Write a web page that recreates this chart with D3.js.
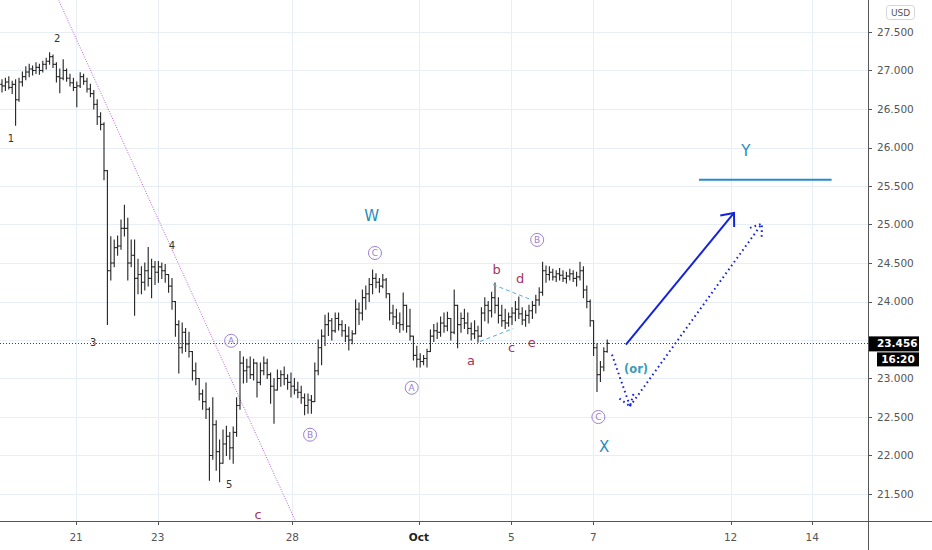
<!DOCTYPE html>
<html>
<head>
<meta charset="utf-8">
<script src="https://cdn.jsdelivr.net/npm/d3@7"></script>
<style>
  html, body { margin: 0; padding: 0; background: #fff; }
  svg { display: block; font-family: "DejaVu Sans", sans-serif; }
</style>
</head>
<body>
<div id="chart"></div>
<script>
// 2h bars, bar index 0 = first visible bar; open = previous close
const firstOpen = 26.82;
const barHigh = [
  26.88, 26.90, 26.92, 26.86, 26.88, 26.90, 26.98, 27.05, 27.08, 27.06,
  27.10, 27.08, 27.12, 27.16, 27.23, 27.20, 27.10, 27.02, 27.14, 27.02,
  26.95, 26.90, 26.85, 26.97, 26.95, 26.90, 26.82, 26.74, 26.62, 26.45,
  26.32, 25.70, 24.84, 24.80, 24.85, 25.06, 25.25, 25.08, 24.80, 24.80,
  24.55, 24.45, 24.50, 24.70, 24.55, 24.52, 24.52, 24.50, 24.48, 24.35,
  24.30, 24.00, 23.75, 23.72, 23.65, 23.60, 23.35, 23.20, 23.00, 22.85,
  22.94, 22.62, 22.75, 22.45, 22.20, 22.33, 22.38, 22.30, 22.37, 22.75,
  23.35, 23.28, 23.25, 23.28, 23.25, 23.20, 23.20, 23.28, 23.25, 23.07,
  23.00, 23.11, 23.10, 23.15, 23.05, 23.07, 23.00, 22.95, 22.90, 22.80,
  22.80, 22.78, 23.20, 23.50, 23.63, 23.82, 23.85, 23.78, 23.85, 23.85,
  23.75, 23.70, 23.67, 23.62, 24.02, 23.98, 24.15, 24.20, 24.30, 24.41,
  24.36, 24.30, 24.35, 24.30, 24.10, 23.95, 23.90, 23.85, 24.11, 23.95,
  23.90, 23.55, 23.42, 23.32, 23.30, 23.38, 23.63, 23.70, 23.72, 23.80,
  23.85, 23.86, 23.78, 24.15, 23.95, 23.85, 23.90, 23.85, 23.72, 23.75,
  23.68, 23.92, 24.05, 24.00, 24.12, 24.24, 24.05, 23.95, 23.90, 23.85,
  23.92, 24.00, 24.06, 23.92, 23.88, 23.95, 24.00, 24.08, 24.18, 24.51,
  24.46, 24.45, 24.42, 24.40, 24.43, 24.40, 24.38, 24.42, 24.40, 24.38,
  24.51, 24.45, 24.20, 24.02, 23.75, 23.45, 23.22, 23.40, 23.50
];
const barLow = [
  26.72, 26.74, 26.76, 26.70, 26.29, 26.60, 26.80, 26.88, 26.92, 26.94,
  26.96, 26.95, 26.98, 27.02, 27.08, 27.04, 26.85, 26.71, 26.88, 26.86,
  26.80, 26.74, 26.53, 26.78, 26.82, 26.72, 26.66, 26.50, 26.30, 26.23,
  25.58, 23.70, 24.28, 24.45, 24.60, 24.68, 24.85, 24.28, 24.45, 23.82,
  24.10, 24.10, 24.15, 24.20, 24.05, 24.22, 24.25, 24.30, 24.25, 24.12,
  23.90, 23.55, 23.07, 23.33, 23.35, 23.28, 22.98, 22.92, 22.72, 22.60,
  22.48, 21.68, 21.95, 21.81, 21.66, 21.90, 22.00, 21.95, 21.90, 22.25,
  22.60, 22.94, 22.95, 23.00, 22.98, 22.76, 22.92, 23.05, 23.00, 22.68,
  22.42, 22.85, 22.90, 22.92, 22.86, 22.76, 22.80, 22.75, 22.68, 22.53,
  22.55, 22.55, 22.70, 23.05, 23.18, 23.43, 23.56, 23.50, 23.60, 23.63,
  23.55, 23.48, 23.37, 23.45, 23.58, 23.70, 23.76, 23.90, 24.00, 24.10,
  24.18, 24.12, 24.18, 24.05, 23.76, 23.70, 23.65, 23.60, 23.63, 23.60,
  23.50, 23.24, 23.15, 23.15, 23.18, 23.15, 23.35, 23.48, 23.52, 23.55,
  23.60, 23.62, 23.50, 23.58, 23.40, 23.60, 23.65, 23.58, 23.50, 23.52,
  23.47, 23.55, 23.75, 23.72, 23.80, 23.85, 23.72, 23.68, 23.65, 23.68,
  23.70, 23.75, 23.78, 23.70, 23.68, 23.72, 23.78, 23.85, 23.95, 24.08,
  24.25, 24.28, 24.28, 24.26, 24.28, 24.26, 24.24, 24.28, 24.26, 24.20,
  24.28, 24.05, 23.92, 23.68, 23.30, 22.83, 22.96, 23.10, 23.34
];
const barClose = [
  26.80, 26.85, 26.78, 26.82, 26.62, 26.85, 26.92, 26.98, 27.02, 27.00,
  27.04, 27.00, 27.08, 27.12, 27.18, 27.08, 26.92, 26.90, 27.00, 26.90,
  26.84, 26.78, 26.80, 26.92, 26.86, 26.76, 26.70, 26.56, 26.40, 26.30,
  25.70, 24.40, 24.50, 24.70, 24.72, 24.95, 24.95, 24.50, 24.60, 24.30,
  24.35, 24.25, 24.40, 24.30, 24.45, 24.38, 24.45, 24.40, 24.35, 24.20,
  24.00, 23.70, 23.40, 23.60, 23.45, 23.35, 23.10, 23.00, 22.80, 22.70,
  22.60, 22.00, 22.40, 22.05, 21.90, 22.15, 22.25, 22.10, 22.30, 22.65,
  23.20, 23.10, 23.15, 23.05, 23.20, 22.95, 23.10, 23.20, 23.05, 22.90,
  22.85, 23.00, 23.05, 23.00, 22.95, 22.90, 22.85, 22.82, 22.75, 22.65,
  22.72, 22.70, 23.10, 23.40, 23.55, 23.70, 23.75, 23.62, 23.78, 23.70,
  23.62, 23.55, 23.50, 23.58, 23.90, 23.85, 24.05, 24.10, 24.22, 24.30,
  24.25, 24.20, 24.28, 24.10, 23.85, 23.80, 23.72, 23.70, 23.95, 23.68,
  23.55, 23.30, 23.25, 23.22, 23.26, 23.35, 23.55, 23.62, 23.60, 23.72,
  23.68, 23.78, 23.60, 23.95, 23.70, 23.78, 23.72, 23.65, 23.58, 23.62,
  23.55, 23.85, 23.95, 23.88, 24.05, 23.95, 23.82, 23.75, 23.72, 23.80,
  23.85, 23.90, 23.84, 23.76, 23.82, 23.88, 23.95, 24.02, 24.12, 24.40,
  24.35, 24.38, 24.32, 24.36, 24.34, 24.30, 24.33, 24.36, 24.30, 24.32,
  24.40, 24.15, 24.00, 23.75, 23.40, 23.05, 23.15, 23.35, 23.456
];

// time axis: bar index where each day label sits
const dateTickIdx = [21.8, 45.8, 85.4, 122.6, 149.8, 173.9, 214.3, 238.3];
const dateTickLabels = ["21", "23", "28", "Oct", "5", "7", "12", "14"];
const priceTicks = [21.5, 22, 22.5, 23, 23.5, 24, 24.5, 25, 25.5, 26, 26.5, 27, 27.5];
const lastPrice = 23.456;
const countdown = "16:20";

// wave labels: [text, bar index, price]
const impulseLabels = [["1", 2.6, 26.12], ["2", 16.2, 27.42], ["3", 26.8, 23.47], ["4", 50.0, 24.73], ["5", 66.8, 21.62]];
const circledLabels = [["A", 67.4, 23.49], ["B", 90.6, 22.27], ["C", 109.7, 24.63], ["A", 120.5, 22.88], ["B", 157.4, 24.80], ["C", 175.4, 22.50]];
const minorLabels = [["c", 75.3, 21.23], ["a", 137.9, 23.24], ["b", 145.5, 24.42], ["c", 149.9, 23.41], ["d", 152.4, 24.30], ["e", 155.8, 23.47]];
const degreeLabels = [["W", 108.7, 25.11], ["X", 177.1, 22.12], ["Y", 218.8, 25.96]];
const orLabel = ["(or)", 186.5, 23.13];

// drawings: [[bar index, price], ...]
const trendLine = [[16.6, 27.92], [86.4, 21.14]];
const triangleUpper = [[144.4, 24.22], [155.3, 24.03]];
const triangleLower = [[140.6, 23.48], [150.4, 23.65]];
const targetLine = [[205.0, 25.58], [244.0, 25.58]];
const mainArrow = [[183.5, 23.44], [215.3, 25.15]];
const altArrowDown = [[179.4, 23.31], [184.7, 22.64]];
const altArrowUp = [[184.7, 22.64], [223.5, 25.01]];

const W = 932, H = 550;
const PW = 868, PH = 521;

const svg = d3.select("#chart").append("svg")
  .attr("width", W).attr("height", H);

const x = d3.scaleLinear().domain([-2 / 3.4, (PW - 2) / 3.4]).range([0, PW]);
const y = d3.scaleLinear().domain([27.5 + 32 / 77, 21.5 - 27 / 77]).range([0, PH]);

svg.append("defs").append("clipPath").attr("id", "plot")
  .append("rect").attr("width", PW).attr("height", PH);

// grid
const grid = svg.append("g").attr("stroke", "#e8eef6").attr("stroke-width", 1);
grid.selectAll("line.h").data(priceTicks).join("line")
  .attr("x1", 0).attr("x2", PW)
  .attr("y1", d => Math.round(y(d)) + 0.5).attr("y2", d => Math.round(y(d)) + 0.5);
grid.selectAll("line.v").data(dateTickIdx).join("line")
  .attr("y1", 0).attr("y2", PH)
  .attr("x1", d => Math.round(x(d)) + 0.5).attr("x2", d => Math.round(x(d)) + 0.5);

const plot = svg.append("g").attr("clip-path", "url(#plot)");

// last price dotted line
plot.append("line")
  .attr("x1", 0).attr("x2", PW)
  .attr("y1", Math.round(y(lastPrice)) + 0.5).attr("y2", Math.round(y(lastPrice)) + 0.5)
  .attr("stroke", "#444").attr("stroke-dasharray", "1,2");

// purple trend line
const line = d3.line().x(d => x(d[0])).y(d => y(d[1]));
plot.append("path").attr("d", line(trendLine))
  .attr("fill", "none").attr("stroke", "#b45fd9").attr("stroke-width", 1)
  .attr("stroke-dasharray", "1,1.5");

// OHLC bars
const bars = barHigh.map((h, i) => ({
  i, high: h, low: barLow[i], close: barClose[i],
  open: i === 0 ? firstOpen : barClose[i - 1]
}));
const barG = plot.append("g").attr("stroke", "#222").attr("stroke-width", 1.1);
barG.selectAll("g").data(bars).join("g").each(function (d) {
  const g = d3.select(this);
  const cx = x(d.i);
  g.append("line").attr("x1", cx).attr("x2", cx).attr("y1", y(d.high) - 0.5).attr("y2", y(d.low) + 0.5);
  g.append("line").attr("x1", cx - 1.7).attr("x2", cx).attr("y1", y(d.open)).attr("y2", y(d.open));
  g.append("line").attr("x1", cx).attr("x2", cx + 1.7).attr("y1", y(d.close)).attr("y2", y(d.close));
});

// triangle boundaries
[triangleUpper, triangleLower].forEach(seg => {
  plot.append("path").attr("d", line(seg))
    .attr("fill", "none").attr("stroke", "#5aaae6").attr("stroke-width", 1)
    .attr("stroke-dasharray", "4,3");
});

// Y target line
plot.append("path").attr("d", line(targetLine))
  .attr("fill", "none").attr("stroke", "#2a8ac8").attr("stroke-width", 2);

function arrowHead(seg, len, spread) {
  const x0 = x(seg[0][0]), y0 = y(seg[0][1]);
  const x1 = x(seg[1][0]), y1 = y(seg[1][1]);
  const a = Math.atan2(y0 - y1, x0 - x1);
  const r = spread * Math.PI / 180;
  return [
    [x1 + len * Math.cos(a - r), y1 + len * Math.sin(a - r)],
    [x1, y1],
    [x1 + len * Math.cos(a + r), y1 + len * Math.sin(a + r)]
  ];
}
const pxLine = d3.line();

// solid forecast arrow
plot.append("path").attr("d", line(mainArrow))
  .attr("fill", "none").attr("stroke", "#1524d9").attr("stroke-width", 2);
plot.append("path").attr("d", pxLine(arrowHead(mainArrow, 14, 40)))
  .attr("fill", "none").attr("stroke", "#1524d9").attr("stroke-width", 2);

// dotted alternative path
[altArrowDown, altArrowUp].forEach(seg => {
  plot.append("path").attr("d", line(seg))
    .attr("fill", "none").attr("stroke", "#1524d9").attr("stroke-width", 2)
    .attr("stroke-dasharray", "1.6,3.2");
  plot.append("path").attr("d", pxLine(arrowHead(seg, 13, 35)))
    .attr("fill", "none").attr("stroke", "#1524d9").attr("stroke-width", 2)
    .attr("stroke-dasharray", "1.6,3.2");
});

// wave labels
const labels = svg.append("g").attr("text-anchor", "middle");
labels.selectAll("text.imp").data(impulseLabels).join("text")
  .attr("x", d => x(d[1])).attr("y", d => y(d[2])).attr("dy", "0.36em")
  .attr("font-size", 10).attr("fill", "#333").text(d => d[0]);

const circ = labels.selectAll("g.circ").data(circledLabels).join("g")
  .attr("transform", d => `translate(${x(d[1])},${y(d[2])})`);
circ.append("circle").attr("r", 6.5).attr("fill", "none")
  .attr("stroke", "#9b7fd4").attr("stroke-width", 1);
circ.append("text").attr("dy", "0.36em").attr("font-size", 9)
  .attr("fill", "#9b7fd4").text(d => d[0]);

labels.selectAll("text.minor").data(minorLabels).join("text")
  .attr("x", d => x(d[1])).attr("y", d => y(d[2])).attr("dy", "0.36em")
  .attr("font-size", 13).attr("fill", "#a3335f").text(d => d[0]);

labels.selectAll("text.deg").data(degreeLabels).join("text")
  .attr("x", d => x(d[1])).attr("y", d => y(d[2])).attr("dy", "0.36em")
  .attr("font-size", 15).attr("fill", "#1f8dbd").text(d => d[0]);

labels.append("text")
  .attr("x", x(orLabel[1])).attr("y", y(orLabel[2])).attr("dy", "0.36em")
  .attr("font-size", 11.5).attr("font-weight", "bold").attr("fill", "#3a9cc0").text(orLabel[0]);

// axes
const axisColor = "#555";
svg.append("line").attr("x1", 0).attr("x2", W).attr("y1", PH + 0.5).attr("y2", PH + 0.5)
  .attr("stroke", axisColor);
svg.append("line").attr("x1", PW + 0.5).attr("x2", PW + 0.5).attr("y1", 0).attr("y2", H)
  .attr("stroke", axisColor);

const xAxis = svg.append("g");
xAxis.selectAll("line").data(dateTickIdx).join("line")
  .attr("x1", d => Math.round(x(d)) + 0.5).attr("x2", d => Math.round(x(d)) + 0.5)
  .attr("y1", PH).attr("y2", PH + 4).attr("stroke", axisColor);
xAxis.selectAll("text").data(dateTickIdx).join("text")
  .attr("x", d => x(d)).attr("y", PH + 20)
  .attr("text-anchor", "middle").attr("font-size", 10.5)
  .attr("fill", (d, i) => dateTickLabels[i] === "Oct" ? "#222" : "#555")
  .attr("font-weight", (d, i) => dateTickLabels[i] === "Oct" ? "bold" : "normal")
  .text((d, i) => dateTickLabels[i]);

// price scale; labels hidden behind the last-price tag are skipped
const fmt = d3.format(".3f");
const yl = y(lastPrice);
const visibleTicks = priceTicks.filter(d => Math.abs(y(d) - yl) > 14);
const yAxis = svg.append("g");
yAxis.selectAll("line").data(priceTicks).join("line")
  .attr("x1", PW).attr("x2", PW + 4)
  .attr("y1", d => Math.round(y(d)) + 0.5).attr("y2", d => Math.round(y(d)) + 0.5)
  .attr("stroke", axisColor);
yAxis.selectAll("text").data(visibleTicks).join("text")
  .attr("x", PW + 9).attr("y", d => y(d)).attr("dy", "0.36em")
  .attr("font-size", 10.5).attr("fill", "#555").text(d => fmt(d));

// last price tag + countdown
svg.append("rect").attr("x", PW + 1).attr("y", yl - 7).attr("width", 50).attr("height", 15).attr("fill", "#000");
svg.append("text").attr("x", PW + 9).attr("y", yl).attr("dy", "0.36em")
  .attr("font-size", 10.5).attr("font-weight", "bold").attr("fill", "#fff").text(fmt(lastPrice));
svg.append("rect").attr("x", PW + 9).attr("y", yl + 9).attr("width", 42).attr("height", 14).attr("fill", "#000");
svg.append("text").attr("x", PW + 30).attr("y", yl + 16).attr("dy", "0.36em").attr("text-anchor", "middle")
  .attr("font-size", 10.5).attr("font-weight", "bold").attr("fill", "#fff").text(countdown);

// currency badge
svg.append("rect").attr("x", 886.5).attr("y", 5.5).attr("width", 28).attr("height", 14).attr("rx", 3)
  .attr("fill", "#fff").attr("stroke", "#d3d6db");
svg.append("text").attr("x", 900.5).attr("y", 12.5).attr("dy", "0.36em").attr("text-anchor", "middle")
  .attr("font-size", 9).attr("fill", "#555").text("USD");
</script>
</body>
</html>
